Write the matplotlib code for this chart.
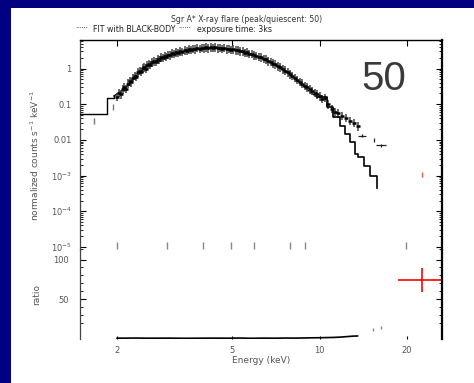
import matplotlib
matplotlib.use("Agg")
import matplotlib.pyplot as plt
from matplotlib.patches import Rectangle
from matplotlib.ticker import FixedLocator, NullFormatter, NullLocator

# ---------------- data ----------------
data_e = [2.00, 2.03, 2.06, 2.09, 2.12, 2.15, 2.18, 2.21, 2.24, 2.27, 2.30, 2.33, 2.36, 2.39,
          2.42, 2.45, 2.48, 2.51, 2.54, 2.57, 2.60, 2.64, 2.68, 2.72, 2.76, 2.80, 2.84, 2.88,
          2.92, 2.96, 3.00, 3.05, 3.10, 3.15, 3.20, 3.25, 3.30, 3.36, 3.42, 3.48, 3.54, 3.60,
          3.66, 3.72, 3.78, 3.85, 3.92, 3.99, 4.06, 4.13, 4.20, 4.28, 4.36, 4.44, 4.52, 4.60,
          4.68, 4.77, 4.86, 4.95, 5.04, 5.13, 5.22, 5.32, 5.42, 5.52, 5.62, 5.72, 5.83, 5.94,
          6.05, 6.16, 6.28, 6.40, 6.52, 6.64, 6.77, 6.90, 7.03, 7.17, 7.31, 7.45, 7.60, 7.75,
          7.90, 8.05, 8.21, 8.37, 8.53, 8.70, 8.87, 9.05, 9.23, 9.41, 9.60, 9.79, 9.99, 10.2,
          10.4, 10.7, 11.0, 11.3, 11.6, 11.9, 12.3, 12.7, 13.1, 13.5]
data_v = [0.16, 0.21, 0.19, 0.26, 0.30, 0.27, 0.38, 0.44, 0.41, 0.55, 0.62, 0.58, 0.78, 0.85,
          0.80, 1.02, 1.08, 1.00, 1.25, 1.32, 1.28, 1.50, 1.62, 1.55, 1.85, 1.78, 2.05, 2.00,
          2.25, 2.15, 2.45, 2.35, 2.65, 2.55, 2.85, 2.75, 3.05, 2.90, 3.25, 3.10, 3.45, 3.30,
          3.60, 3.45, 3.75, 3.55, 3.85, 3.65, 3.95, 3.70, 3.95, 3.75, 3.90, 3.70, 3.85, 3.60,
          3.75, 3.50, 3.60, 3.35, 3.45, 3.20, 3.25, 3.00, 3.05, 2.80, 2.85, 2.60, 2.55, 2.35,
          2.30, 2.10, 2.05, 1.85, 1.80, 1.60, 1.55, 1.38, 1.30, 1.15, 1.08, 0.95, 0.88, 0.78,
          0.70, 0.62, 0.55, 0.49, 0.43, 0.38, 0.33, 0.30, 0.26, 0.24, 0.21, 0.19, 0.165, 0.14,
          0.15, 0.10, 0.075, 0.062, 0.055, 0.048, 0.042, 0.034, 0.030, 0.024]

# isolated low-energy points
low_e = [1.67, 1.93]
low_v = [0.035, 0.085]
low_err = [0.007, 0.015]

# high-energy sparse points
hi_e = [14.0, 15.4, 16.3]
hi_v = [0.013, 0.0100, 0.0070]
hi_xerr = [0.4, 0.0, 0.65]
hi_yerr = [0.0012, 0.0014, 0.0006]

# points at the floor of the plot
floor_e = [2.0, 2.97, 3.95, 4.94, 5.95, 7.88, 8.89, 19.8]
floor_v = [1.1e-5] * 8

# red point
red_e = 22.6
red_v = 0.0011
red_ratio = 74
red_ratio_err = 15
red_xerr_lo = 4.0
red_xerr_hi = 5.0

# model (left edges)
model_e = [1.49, 1.85, 1.95, 2.05, 2.15, 2.25, 2.35, 2.45, 2.55, 2.70, 2.85, 3.0, 3.2, 3.4,
           3.6, 3.8, 4.0, 4.3, 4.6, 4.9, 5.2, 5.5, 5.8, 6.1, 6.4, 6.7, 7.0, 7.4, 7.8, 8.2,
           8.6, 9.0, 9.4, 9.8, 10.6, 11.1, 11.7, 12.2, 12.7, 13.2, 13.5, 14.2, 14.9, 15.7]
model_v = [0.052, 0.15, 0.17, 0.22, 0.30, 0.45, 0.65, 0.90, 1.15, 1.50, 1.95, 2.35, 2.75, 3.1,
           3.4, 3.6, 3.75, 3.8, 3.7, 3.45, 3.15, 2.85, 2.5, 2.15, 1.8, 1.5, 1.25, 0.95, 0.72, 0.52,
           0.38, 0.27, 0.20, 0.157, 0.082, 0.043, 0.024, 0.0143, 0.0085, 0.0039, 0.0034, 0.0018,
           0.0010, 0.00046]

# ratio panel
ratio_e = [2.0, 2.3, 2.6, 3.0, 3.4, 3.8, 4.3, 4.8, 5.3, 5.8, 6.4, 7.0, 7.6, 8.2, 8.8, 9.4,
           10.0, 10.6, 11.2, 11.8, 12.4, 13.0, 13.5]
ratio_v = [1.0, 1.2, 1.0, 1.1, 0.9, 1.0, 1.1, 1.0, 1.2, 0.9, 1.1, 1.0, 1.2, 1.1, 1.3, 1.5,
           1.6, 1.8, 2.0, 2.4, 3.0, 3.6, 3.8]
ratio_hi_e = [15.3, 16.2]
ratio_hi_v = [12.0, 14.5]

x_ticks = [2, 5, 10, 20]
x_labels = ["2", "5", "10", "20"]
y_ticks = [1e-5, 1e-4, 1e-3, 0.01, 0.1, 1]
y_labels = ["$10^{-5}$", "$10^{-4}$", "$10^{-3}$", "0.01", "0.1", "1"]
r_ticks = [50, 100]
r_labels = ["50", "100"]

title1 = "Sgr A* X-ray flare (peak/quiescent: 50)"
title2 = "FIT with BLACK-BODY"
title3 = "exposure time: 3ks"

# ---------------- figure ----------------
W, H = 474, 383
fig = plt.figure(figsize=(W / 100, H / 100), dpi=100)
fig.patch.set_facecolor("#000080")
fig.add_artist(Rectangle((11 / W, 0), 1 - 11 / W, 1 - 8 / H, transform=fig.transFigure,
                         facecolor="white", edgecolor="none", zorder=-5))

L, R = 80 / W, 442 / W
ax = fig.add_axes([L, 1 - 250 / H, R - L, (250 - 40) / H])
axr = fig.add_axes([L, 1 - 339 / H, R - L, (339 - 250) / H])

tc = "#555555"
for a in (ax, axr):
    a.set_xscale("log")
    a.set_xlim(1.49, 26.4)
    a.patch.set_alpha(0)
    a.spines["left"].set_color("#444444")
    a.spines["left"].set_linewidth(0.9)
    a.spines["right"].set_color("black")
    a.spines["right"].set_linewidth(1.6)
    a.spines["bottom"].set_visible(False)
    a.tick_params(direction="in", colors="black", labelcolor=tc, labelsize=6,
                  length=4, width=0.8, which="major")
    a.tick_params(direction="in", which="minor", length=2, width=0.6)
    a.xaxis.set_major_locator(FixedLocator(x_ticks))
    a.xaxis.set_minor_locator(NullLocator())

# upper panel
ax.set_yscale("log")
ax.set_ylim(8.2e-6, 6.3)
ax.spines["top"].set_linewidth(1.0)
ax.yaxis.set_major_locator(FixedLocator(y_ticks))
ax.set_yticklabels(y_labels)
ax.xaxis.set_major_formatter(NullFormatter())
ax.tick_params(top=True, right=True, bottom=False, which="both")
ax.tick_params(axis="y", pad=6)

# model: steps at the ends, continuous under the data in the middle
ax.plot(model_e[:3], model_v[:3], drawstyle="steps-post", color="black", lw=1.0, zorder=3)
ax.plot(model_e[2:34], model_v[2:34], color="black", lw=1.0, zorder=1)
ax.plot(model_e[33:], model_v[33:], drawstyle="steps-post", color="black", lw=1.2, zorder=3)
ax.errorbar(data_e, data_v, yerr=[[v * 0.25 for v in data_v], [v * 0.3 for v in data_v]],
            fmt="none", ecolor="#444444", elinewidth=1.1, zorder=2)
ax.plot(data_e, data_v, ls="none", marker="_", ms=3, color="black", mew=1.8, zorder=2)
ax.errorbar(low_e, low_v, yerr=low_err, fmt="none", ecolor="#777777", elinewidth=1.0)
ax.errorbar(hi_e, hi_v, xerr=hi_xerr, yerr=hi_yerr, fmt="none", ecolor="#222222", elinewidth=0.9)
ax.errorbar(floor_e, floor_v, yerr=0.25e-5, fmt="none", ecolor="#888888", elinewidth=1.0)
ax.errorbar([red_e], [red_v], yerr=0.00018, fmt="none", ecolor="#ff5050", elinewidth=1.0)

ax.text(0.84, 0.813, "50", transform=ax.transAxes, ha="center", va="center",
        fontsize=29, color="#3a3a3a", family="Liberation Sans")

ax.set_ylabel("normalized counts s$^{-1}$ keV$^{-1}$", fontsize=6.5, color=tc)

fig.text(247 / W, 1 - 20 / H, title1, ha="center", va="center", fontsize=5.6, color="#333333")
fig.text(75 / W, 1 - 29 / H, "\u2022\u2022\u2022\u2022\u2022\u2022", ha="left", va="center",
         fontsize=2.6, color="#444444")
fig.text(93 / W, 1 - 29 / H, title2, ha="left", va="center", fontsize=5.7, color="#222222")
fig.text(178 / W, 1 - 29 / H, "\u2022\u2022\u2022\u2022\u2022\u2022", ha="left", va="center",
         fontsize=2.6, color="#444444")
fig.text(197 / W, 1 - 29 / H, title3, ha="left", va="center", fontsize=5.7, color="#222222")

# ratio panel
axr.set_ylim(0, 112)
axr.spines["top"].set_visible(False)
axr.yaxis.set_major_locator(FixedLocator(r_ticks))
axr.set_yticklabels(r_labels)
axr.yaxis.set_minor_locator(FixedLocator([20, 30, 40, 60, 70, 80, 90]))
axr.set_xticklabels(x_labels)
axr.tick_params(axis="y", pad=8)
axr.tick_params(top=False, right=True, bottom=True, which="both")
axr.tick_params(axis="x", length=2, pad=5)

axr.plot(ratio_e, ratio_v, color="black", lw=1.2)
axr.errorbar(ratio_hi_e, ratio_hi_v, yerr=2.0, fmt="none", ecolor="#888888", elinewidth=1.0)
axr.errorbar([red_e], [red_ratio], xerr=[[red_xerr_lo], [red_xerr_hi]], yerr=red_ratio_err,
             fmt="none", ecolor="red", elinewidth=1.2, clip_on=True)
axr.set_ylabel("ratio", fontsize=6.5, color=tc)
axr.set_xlabel("Energy (keV)", fontsize=6.5, color=tc, labelpad=1)

ax.yaxis.set_label_coords(-0.108, 0.45)
axr.yaxis.set_label_coords(-0.108, 0.5)

fig.savefig("out.png", dpi=100, facecolor=fig.get_facecolor())
